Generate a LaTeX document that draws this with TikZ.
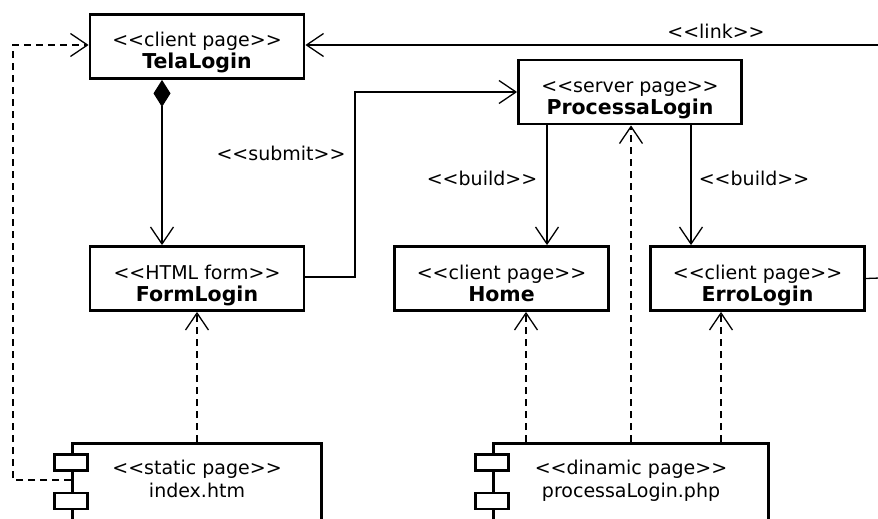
\documentclass[tikz,border=0pt]{standalone}
\usepackage{fontspec}
\setmainfont{DejaVu Sans}[Ligatures=TeXOff]
\usetikzlibrary{arrows.meta}
\tikzset{
  umlbox/.style={draw, line width=2.8pt, rectangle, minimum width=214pt, minimum height=64pt, inner sep=0pt, fill=white},
  comp/.style={draw, line width=2.8pt, rectangle, minimum height=140pt, inner sep=0pt, anchor=north},
  port/.style={draw, line width=2.8pt, rectangle, minimum width=33pt, minimum height=16pt, inner sep=0pt, fill=white},
  txt/.style={anchor=base, inner sep=0pt, font=\fontsize{19}{22}\selectfont},
  bold/.style={txt, font=\fontsize{20.5}{22}\selectfont\bfseries},
  conn/.style={line width=1.3pt},
  opentip/.style={-{Straight Barb[length=17pt,width=23pt,line width=1.3pt]}},
  dsh/.style={conn, dash pattern=on 7pt off 5pt},
}
\begin{document}
\begin{tikzpicture}[x=1pt,y=-1pt]
\clip (0,0) rectangle (878,519);
\fill[white] (0,0) rectangle (878,519);

% boxes
\node[umlbox] (tela) at (197,46.5) {};
\node[txt] (tela1) at (197,47) {<<client page>>};
\node[bold] (tela2) at (197,69) {TelaLogin};

\node[umlbox, minimum width=223pt] (proc) at (630,92) {};
\node[txt] (proc1) at (630,92.5) {<<server page>>};
\node[bold] (proc2) at (630,114.5) {ProcessaLogin};

\node[umlbox] (form) at (197,278.5) {};
\node[txt] (form1) at (197,279) {<<HTML form>>};
\node[bold] (form2) at (197,301) {FormLogin};

\node[umlbox] (home) at (501.5,278.5) {};
\node[txt] (home1) at (501.5,279) {<<client page>>};
\node[bold] (home2) at (501.5,301) {Home};

\node[umlbox] (erro) at (757.5,278.5) {};
\node[txt] (erro1) at (757.5,279) {<<client page>>};
\node[bold] (erro2) at (757.5,301) {ErroLogin};

% components
\node[comp, minimum width=249pt] (idx) at (197,442) {};
\node[port] (idxp1) at (71,462.5) {};
\node[port] (idxp2) at (71,501) {};
\node[txt] (idx1) at (197,474) {<<static page>>};
\node[txt] (idx2) at (197,497) {index.htm};

\node[comp, minimum width=275pt] (php) at (631,442) {};
\node[port] (phpp1) at (492,462.5) {};
\node[port] (phpp2) at (492,501) {};
\node[txt] (php1) at (631,474) {<<dinamic page>>};
\node[txt] (php2) at (631,497) {processaLogin.php};

% free ends
\coordinate (linkend) at (880,45);
\coordinate (erroend) at (880,278);
\coordinate (leftx) at (13,480);

% connectors
\draw[conn, opentip] (linkend) -- (linkend -| tela.east);
\node[txt] (linklbl) at (716,39) {<<link>>};

\draw[conn] (erro.east) -- (erroend);

\draw[dsh, opentip] (idx.west |- leftx) -- (leftx) |- ([yshift=1.5pt]tela.west);

\draw[conn, {Diamond[length=27pt,width=17pt]}-{Straight Barb[length=17pt,width=23pt,line width=1.3pt]}]
  ([xshift=-35pt]tela.south) -- ([xshift=-35pt]form.north);

\draw[conn, opentip] ([yshift=1.5pt]form.east) -- (355,277) -- (355,92) -- (proc.west);
\node[txt] (submitlbl) at (281,160) {<<submit>>};

\draw[conn, opentip] ([xshift=-83pt]proc.south) -- ([xshift=-83pt]proc.south |- home.north);
\node[txt] (build1) at (482,185) {<<build>>};
\draw[conn, opentip] ([xshift=61pt]proc.south) -- ([xshift=61pt]proc.south |- erro.north);
\node[txt] (build2) at (754,185) {<<build>>};

\draw[dsh, opentip] (php.north) -- (php.north |- proc.south);
\draw[dsh, opentip] ([xshift=-105pt]php.north) -- ([xshift=-105pt]php.north |- home.south);
\draw[dsh, opentip] ([xshift=90pt]php.north) -- ([xshift=90pt]php.north |- erro.south);
\draw[dsh, opentip] (idx.north) -- (idx.north |- form.south);
\end{tikzpicture}
\end{document}
